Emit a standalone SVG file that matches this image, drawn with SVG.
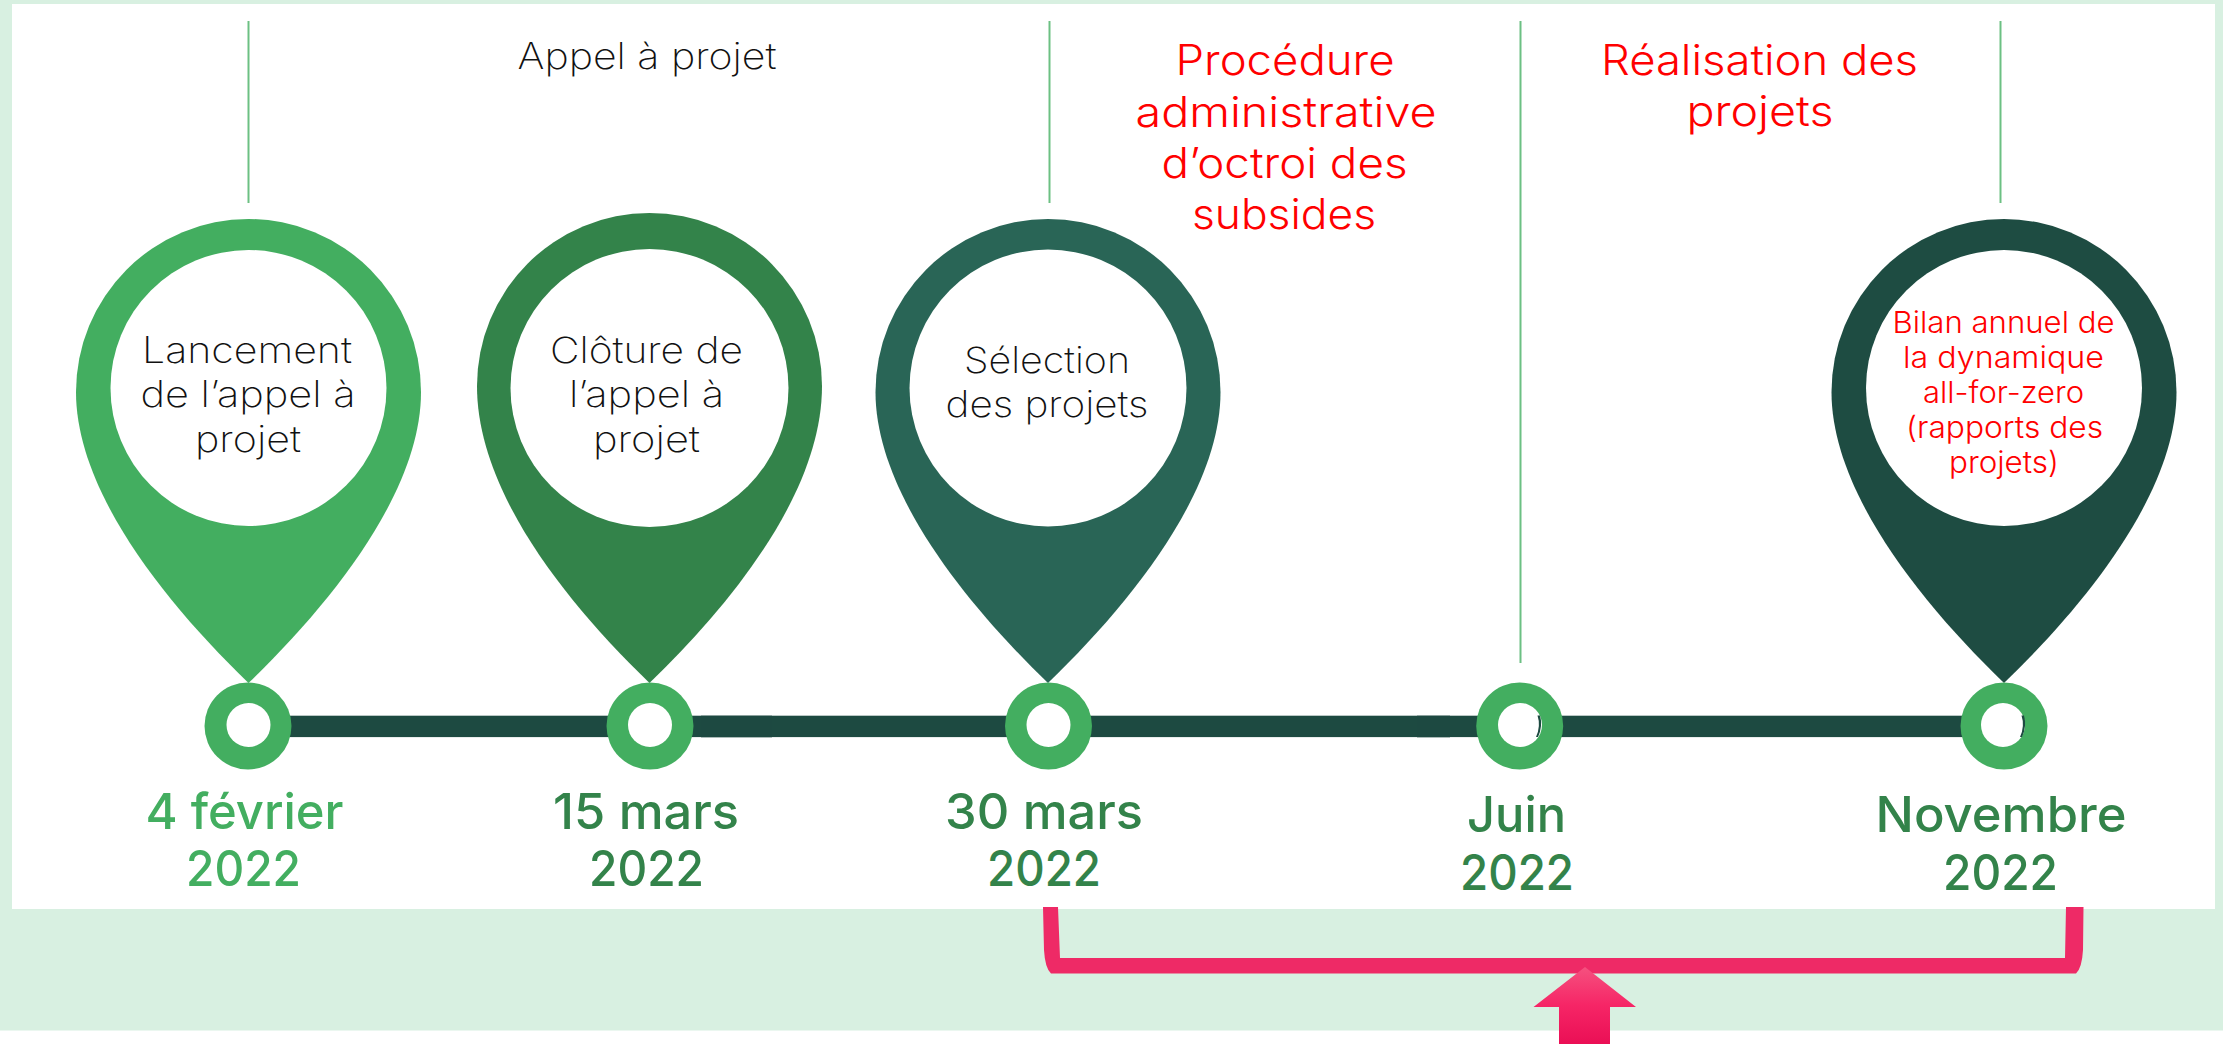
<svg xmlns="http://www.w3.org/2000/svg" width="2223" height="1044" viewBox="0 0 2223 1044">
<style>
text{font-family:"Inter","Noto Sans","Liberation Sans",sans-serif}
.k{font-size:36px;font-weight:200;fill:#111111}
.r{font-size:42px;font-weight:300;fill:#ff0000}
.s{font-size:30px;font-weight:300;fill:#ff0000}
.d{font-size:50px;font-weight:500}
.c1{fill:#43ae60}.c2{fill:#33834a}
.v{stroke:#6cc083;stroke-width:2;fill:none}
.ring{fill:#43ae60}
.hole{fill:#ffffff}
.bar{fill:#1d4a41}
</style>
<defs>
<linearGradient id="up" gradientUnits="userSpaceOnUse" x1="0" y1="967" x2="0" y2="1044"><stop offset="0" stop-color="#f5517f"/><stop offset="0.5" stop-color="#f62566"/><stop offset="1" stop-color="#ea0f55"/></linearGradient>
<path id="pin" d="M0,683 C-86,600 -172.500,490 -172.500,392 A172.500,173 0 0 1 172.500,392 C172.500,490 86,600 0,683Z"/>
<path id="pinTall" d="M0,683 C-86,600 -172.500,490 -172.500,386 A172.500,173 0 0 1 172.500,386 C172.500,490 86,600 0,683Z"/>
</defs>
<rect id="background" width="2223" height="1030.5" fill="#d8f0e1"/>
<rect id="panel" x="12" y="4" width="2203" height="905" fill="#ffffff"/>
<g id="connectors">
<rect class="bar" x="248" y="715.700" width="1756" height="21.400"/>
<rect x="701" y="715" width="71" height="23" fill="#1d4a41" opacity="0.3"/>
<rect x="1417" y="715" width="33" height="23" fill="#1d4a41" opacity="0.3"/>
<line class="v" x1="248.500" y1="21" x2="248.500" y2="203"/>
<line class="v" x1="1049.500" y1="21" x2="1049.500" y2="203"/>
<line class="v" x1="1520.500" y1="21" x2="1520.500" y2="663"/>
<line class="v" x1="2000.500" y1="21" x2="2000.500" y2="203"/>
<path id="bracket" fill="#ee2a66" d="M1043,907 L1058,907 L1060,958 L2065,958 L2066,907 L2083.500,907 L2083,950 Q2082,968 2076,973.500 L1051,973.500 Q1045,968 1044,950Z"/>
<path id="arrow" fill="url(#up)" d="M1585,967 L1636,1007 L1610,1007 L1610,1044 L1559,1044 L1559,1007 L1533.500,1007Z"/>
</g>
<g id="label-appel"><text class="k" x="517.500" y="69" textLength="259" lengthAdjust="spacingAndGlyphs">Appel à projet</text></g>
<g id="label-procedure">
<text class="r" x="1175.500" y="75" textLength="219" lengthAdjust="spacingAndGlyphs">Procédure</text>
<text class="r" x="1135.500" y="127" textLength="301" lengthAdjust="spacingAndGlyphs">administrative</text>
<text class="r" x="1161.500" y="178" textLength="246" lengthAdjust="spacingAndGlyphs">d’octroi des</text>
<text class="r" x="1192" y="229" textLength="184" lengthAdjust="spacingAndGlyphs">subsides</text>
</g>
<g id="label-realisation">
<text class="r" x="1601" y="75" textLength="317" lengthAdjust="spacingAndGlyphs">Réalisation des</text>
<text class="r" x="1686.500" y="126" textLength="147" lengthAdjust="spacingAndGlyphs">projets</text>
</g>
<g id="node-lancement">
<use href="#pin" x="248.500" class="c1"/>
<circle class="hole" cx="248.500" cy="388" r="138"/>
<circle class="ring" cx="248" cy="726" r="43.500"/><circle class="hole" cx="248.500" cy="725" r="22"/>
<text class="k" x="142" y="363" textLength="210" lengthAdjust="spacingAndGlyphs">Lancement</text>
<text class="k" x="140.500" y="407" textLength="215" lengthAdjust="spacingAndGlyphs">de l’appel à</text>
<text class="k" x="195" y="452" textLength="106" lengthAdjust="spacingAndGlyphs">projet</text>
<text class="d c1" x="145.500" y="829" textLength="198" lengthAdjust="spacingAndGlyphs">4 février</text>
<text class="d c1" x="186" y="886" textLength="115" lengthAdjust="spacingAndGlyphs">2022</text>
</g>
<g id="node-cloture">
<use href="#pinTall" x="649.500" class="c2"/>
<circle class="hole" cx="649.500" cy="388" r="139"/>
<circle class="ring" cx="650" cy="726" r="43.500"/><circle class="hole" cx="650" cy="725" r="22"/>
<text class="k" x="550" y="363" textLength="193" lengthAdjust="spacingAndGlyphs">Clôture de</text>
<text class="k" x="569" y="407" textLength="155" lengthAdjust="spacingAndGlyphs">l’appel à</text>
<text class="k" x="593" y="452" textLength="107" lengthAdjust="spacingAndGlyphs">projet</text>
<text class="d c2" x="553" y="829" textLength="186" lengthAdjust="spacingAndGlyphs">15 mars</text>
<text class="d c2" x="589" y="886" textLength="115" lengthAdjust="spacingAndGlyphs">2022</text>
</g>
<g id="node-selection">
<use href="#pin" x="1048" fill="#296556"/>
<circle class="hole" cx="1048" cy="388" r="138.500"/>
<circle class="ring" cx="1048.500" cy="726" r="43.500"/><circle class="hole" cx="1048.500" cy="725" r="22"/>
<text class="k" x="964" y="373" textLength="166" lengthAdjust="spacingAndGlyphs">Sélection</text>
<text class="k" x="945.500" y="417" textLength="203" lengthAdjust="spacingAndGlyphs">des projets</text>
<text class="d c2" x="945" y="829" textLength="198" lengthAdjust="spacingAndGlyphs">30 mars</text>
<text class="d c2" x="987" y="886" textLength="114" lengthAdjust="spacingAndGlyphs">2022</text>
</g>
<g id="node-juin">
<circle class="ring" cx="1519.700" cy="726" r="43.500"/><circle class="hole" cx="1520" cy="725" r="22"/>
<path fill="#1d4a41" d="M1537.500,715.500 Q1541,726 1536,737 L1538,737 Q1543,726 1540,715.500Z"/>
<text class="d c2" x="1467" y="832" textLength="99" lengthAdjust="spacingAndGlyphs">Juin</text>
<text class="d c2" x="1460" y="890" textLength="114" lengthAdjust="spacingAndGlyphs">2022</text>
</g>
<g id="node-bilan">
<use href="#pin" x="2004" fill="#1e4c42"/>
<circle class="hole" cx="2004" cy="388" r="138"/>
<circle class="ring" cx="2004" cy="726" r="43.500"/><circle class="hole" cx="2003" cy="725" r="22"/>
<path fill="#1d4a41" d="M2021.500,715.500 Q2025,726 2020,737 L2022,737 Q2027,726 2024,715.500Z"/>
<text class="s" x="1892.500" y="333" textLength="222" lengthAdjust="spacingAndGlyphs">Bilan annuel de</text>
<text class="s" x="1903" y="368" textLength="201" lengthAdjust="spacingAndGlyphs">la dynamique</text>
<text class="s" x="1923" y="403" textLength="161" lengthAdjust="spacingAndGlyphs">all-for-zero</text>
<text class="s" x="1906" y="438" textLength="197" lengthAdjust="spacingAndGlyphs">(rapports des</text>
<text class="s" x="1949" y="473" textLength="110" lengthAdjust="spacingAndGlyphs">projets)</text>
<text class="d c2" x="1875.500" y="832" textLength="251" lengthAdjust="spacingAndGlyphs">Novembre</text>
<text class="d c2" x="1943" y="890" textLength="115" lengthAdjust="spacingAndGlyphs">2022</text>
</g>
</svg>
